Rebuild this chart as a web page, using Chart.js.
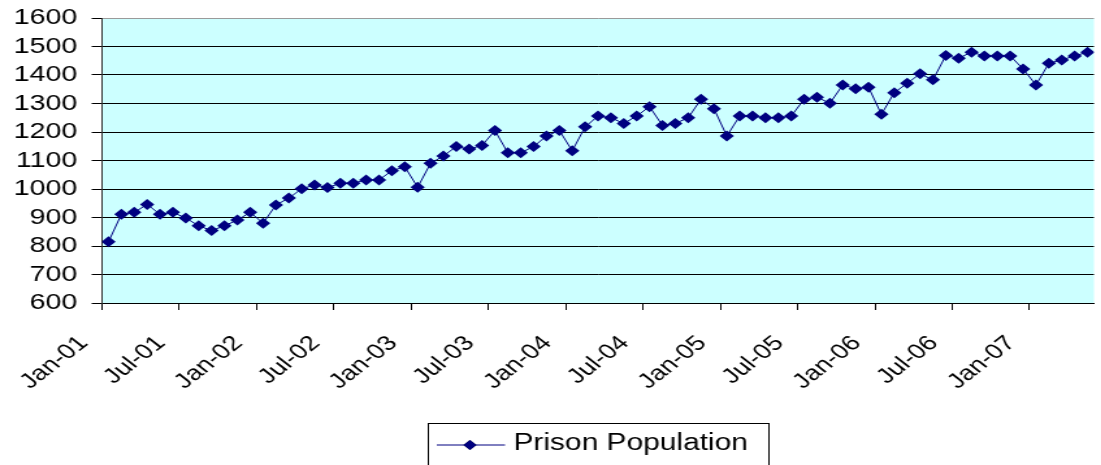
<!DOCTYPE html>
<html>
<head>
<meta charset="utf-8">
<title>Prison Population</title>
<script src="https://cdn.jsdelivr.net/npm/chart.js@4.4.0/dist/chart.umd.min.js"></script>
<style>
  html, body { margin: 0; padding: 0; background: #fff; overflow: hidden; }
  /* the old spreadsheet chart is drawn wide, so stretch the canvas sideways */
  #wrap { width: 847px; height: 465px; transform: scaleX(1.3); transform-origin: 0 0; }
</style>
</head>
<body>
<div id="wrap"><canvas id="popChart" width="847" height="465"></canvas></div>
<script>
// Monthly figures, Jan 2001 - May 2007
const months = [
    'Jan-01', 'Feb-01', 'Mar-01', 'Apr-01', 'May-01', 'Jun-01', 'Jul-01', 'Aug-01', 'Sep-01', 'Oct-01', 'Nov-01', 'Dec-01',
    'Jan-02', 'Feb-02', 'Mar-02', 'Apr-02', 'May-02', 'Jun-02', 'Jul-02', 'Aug-02', 'Sep-02', 'Oct-02', 'Nov-02', 'Dec-02',
    'Jan-03', 'Feb-03', 'Mar-03', 'Apr-03', 'May-03', 'Jun-03', 'Jul-03', 'Aug-03', 'Sep-03', 'Oct-03', 'Nov-03', 'Dec-03',
    'Jan-04', 'Feb-04', 'Mar-04', 'Apr-04', 'May-04', 'Jun-04', 'Jul-04', 'Aug-04', 'Sep-04', 'Oct-04', 'Nov-04', 'Dec-04',
    'Jan-05', 'Feb-05', 'Mar-05', 'Apr-05', 'May-05', 'Jun-05', 'Jul-05', 'Aug-05', 'Sep-05', 'Oct-05', 'Nov-05', 'Dec-05',
    'Jan-06', 'Feb-06', 'Mar-06', 'Apr-06', 'May-06', 'Jun-06', 'Jul-06', 'Aug-06', 'Sep-06', 'Oct-06', 'Nov-06', 'Dec-06',
    'Jan-07', 'Feb-07', 'Mar-07', 'Apr-07', 'May-07'
];

const prisonPopulation = [
    815, 911, 918, 946, 911, 918, 898, 871, 854, 871, 891, 918,
    880, 944, 968, 1001, 1014, 1005, 1020, 1020, 1032, 1032, 1064, 1078,
    1006, 1090, 1116, 1149, 1140, 1153, 1205, 1127, 1127, 1149, 1186, 1205,
    1134, 1218, 1256, 1250, 1230, 1256, 1289, 1223, 1230, 1250, 1315, 1282,
    1186, 1256, 1256, 1250, 1250, 1256, 1315, 1322, 1301, 1365, 1352, 1357,
    1262, 1338, 1371, 1404, 1383, 1468, 1459, 1480, 1467, 1467, 1467, 1421,
    1365, 1441, 1453, 1467, 1480
];

const yMin = 600;
const yMax = 1600;
const yStep = 100;
const labelEvery = 6; // one axis label per half year

const NAVY = '#000080';
const FONT = "'Liberation Sans', Arial, sans-serif";

// each month sits in the middle of its slot, tick marks fall on slot edges
const points = prisonPopulation.map((v, i) => ({ x: i, y: v }));
const xTickValues = months
    .map((m, i) => i)
    .filter(i => i % labelEvery === 0)
    .map(i => i - 0.5);

// cyan fill behind the plot
const plotBackground = {
    id: 'plotBackground',
    beforeDraw(chart) {
        const { ctx, chartArea: a } = chart;
        ctx.save();
        ctx.fillStyle = '#CCFFFF';
        ctx.fillRect(a.left, a.top, a.right - a.left, a.bottom - a.top);
        ctx.restore();
    }
};

// boxed legend under the axis: line + diamond + series name
const legendBox = {
    id: 'legendBox',
    afterDraw(chart) {
        const ctx = chart.ctx;
        const ds = chart.data.datasets[0];
        ctx.save();
        ctx.strokeStyle = '#000';
        ctx.lineWidth = 1;
        ctx.strokeRect(329.5, 423.5, 262, 60);

        ctx.strokeStyle = ds.borderColor;
        ctx.beginPath();
        ctx.moveTo(336, 445);
        ctx.lineTo(388.5, 445);
        ctx.stroke();

        Chart.helpers.drawPoint(ctx, { pointStyle: 'rectRot', radius: 5, borderWidth: 0 }, 361.5, 445);
        ctx.fillStyle = ds.pointBackgroundColor;
        ctx.fill();

        ctx.fillStyle = '#000';
        ctx.font = '23px ' + FONT;
        ctx.textBaseline = 'middle';
        ctx.textAlign = 'left';
        ctx.fillText(ds.label, 395, 444);
        ctx.restore();
    }
};

const ctx = document.getElementById('popChart').getContext('2d');
const chart = new Chart(ctx, {
    type: 'line',
    data: {
        datasets: [{
            label: 'Prison Population',
            data: points,
            borderColor: NAVY,
            borderWidth: 1,
            tension: 0,
            pointStyle: 'rectRot',
            pointRadius: 5.5,
            pointBackgroundColor: NAVY,
            pointBorderColor: NAVY,
            pointBorderWidth: 0
        }]
    },
    options: {
        responsive: false,
        animation: false,
        layout: { padding: { top: 18, left: 0, right: 0, bottom: 0 } },
        plugins: {
            legend: { display: false },
            tooltip: { enabled: false }
        },
        scales: {
            x: {
                type: 'linear',
                min: -0.5,
                max: months.length - 0.5,
                afterBuildTicks: scale => {
                    scale.ticks = xTickValues.map(v => ({ value: v }));
                },
                grid: {
                    drawOnChartArea: false,
                    tickLength: 7,
                    color: '#000',
                    tickColor: '#000'
                },
                border: { color: '#000', width: 1 },
                ticks: {
                    autoSkip: false,
                    minRotation: 45,
                    maxRotation: 45,
                    labelOffset: -14,
                    padding: 21,
                    color: '#000',
                    font: { family: FONT, size: 21 },
                    callback: value => months[Math.round(value + 0.5)]
                },
                afterFit: scale => { scale.height = 162; }
            },
            y: {
                min: yMin,
                max: yMax,
                grid: {
                    color: c => (c.tick && c.tick.value === yMax ? '#9a9a9a' : '#000'),
                    tickColor: '#000',
                    tickLength: 8
                },
                border: { color: '#333', width: 1 },
                ticks: {
                    stepSize: yStep,
                    autoSkip: false,
                    padding: 11,
                    color: '#000',
                    // small lineHeight keeps the top label from pushing the plot down
                    font: { family: FONT, size: 22, lineHeight: 0.4 },
                    callback: value => String(value)
                },
                afterFit: scale => { scale.width = 78.5; }
            }
        }
    },
    plugins: [plotBackground, legendBox]
});
</script>
</body>
</html>
